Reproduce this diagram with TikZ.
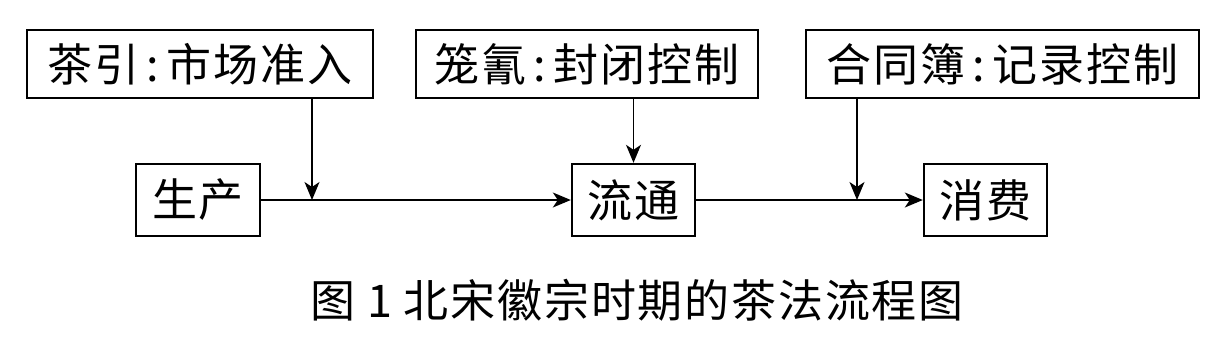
\documentclass[tikz,border=0pt]{standalone}
\usepackage{fontspec}
\newfontfamily\cjk[LetterSpace=4]{Noto Sans CJK SC}
\usetikzlibrary{arrows.meta}
\begin{document}
\begin{tikzpicture}[x=1pt,y=-1pt,
  box/.style={draw,line width=2.4pt,inner sep=0pt,font=\cjk\fontsize{45}{50}\selectfont},
  conn/.style={line width=1.4pt,-{Stealth[length=18pt,width=15pt,inset=5pt]}},
  line/.style={line width=1.4pt}]
\useasboundingbox (0,0) rectangle (1223,341);
\node[box,minimum width=346pt,minimum height=68pt] (b1) at (200,64) {茶引\,:\,市场准入};
\node[box,minimum width=342pt,minimum height=68pt] (b2) at (587,64) {笼氰\,:\,封闭控制};
\node[box,minimum width=393pt,minimum height=68pt] (b3) at (1002.5,64) {合同簿\,:\,记录控制};
\node[box,minimum width=124pt,minimum height=72pt] (sc) at (198,200) {生产};
\node[box,minimum width=123pt,minimum height=72pt] (lt) at (633.5,200) {流通};
\node[box,minimum width=123pt,minimum height=72pt] (xf) at (985.5,200) {消费};
\coordinate (j1) at (312,200);
\coordinate (j2) at (857,200);
\draw[conn] (sc.east) -- (lt.west);
\draw[conn] (lt.east) -- (xf.west);
\draw[conn] (b1.south -| j1) -- (j1);
\draw[conn] (b2.south -| lt) -- (lt.north);
\draw[conn] (b3.south -| j2) -- (j2);
\node[font=\cjk\fontsize{45}{50}\selectfont] (cap) at (637,300) {图 1 北宋徽宗时期的茶法流程图};
\end{tikzpicture}
\end{document}
